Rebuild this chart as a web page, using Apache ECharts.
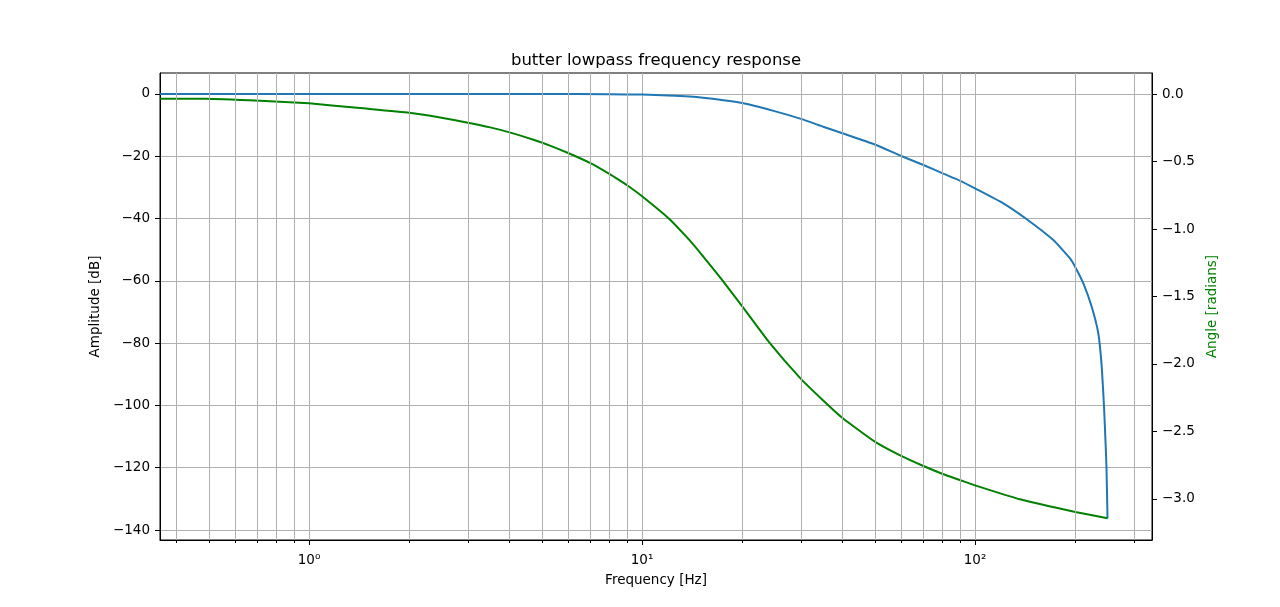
<!DOCTYPE html>
<html>
<head>
<meta charset="utf-8">
<title>butter lowpass frequency response</title>
<script src="https://cdn.jsdelivr.net/npm/echarts@6/dist/echarts.min.js"></script>
<style>
  html, body { margin: 0; padding: 0; background: #fff; }
  #chart { width: 1280px; height: 607px; }
</style>
</head>
<body>
<div id="chart"></div>
<script>
// amplitude curve
const FREQ_MAG = [0.49, 1, 5, 8, 10, 12, 15, 20, 25, 30, 35, 40, 50, 60, 70, 80, 90, 100,
  121.6, 143, 171.9, 192.9, 201, 211.5, 224.1, 234.6, 240.2, 244, 246.9, 248.2, 250];
const MAG_DB = [0, 0, 0, -0.1, -0.2, -0.5, -1.1, -2.9, -5.5, -8.0, -10.5, -12.6, -16.2, -19.9, -22.8, -25.5, -27.8, -30.3,
  -35.1, -40.2, -46.9, -52.8, -56.0, -60.8, -68.3, -76.9, -87.6, -100.4, -113.3, -120, -136.3];

// phase curve
const FREQ_PHASE = [0.49, 0.713, 1, 1.423, 2, 2.475, 3, 3.5, 4, 4.72, 5.29, 6, 7, 8, 8.5, 9, 10,
  12.1, 13.8, 15, 17.3, 20, 24.1, 30, 35, 40, 50, 60, 70, 80, 90, 100, 136.5, 200, 250];
const PHASE_RAD = [-0.035, -0.05, -0.069, -0.104, -0.138, -0.173, -0.212, -0.247, -0.284, -0.339, -0.382, -0.437,
  -0.512, -0.593, -0.634, -0.674, -0.757, -0.927, -1.075, -1.18, -1.37, -1.573, -1.84, -2.11, -2.27, -2.40,
  -2.575, -2.681, -2.756, -2.815, -2.859, -2.899, -3.002, -3.096, -3.143];

const X_TICKS = [1, 10, 100];
const X_MINOR = [0.4, 0.5, 0.6, 0.7, 0.8, 0.9, 2, 3, 4, 5, 6, 7, 8, 9,
  20, 30, 40, 50, 60, 70, 80, 90, 200, 300];
const AMP_TICKS = [-140, -120, -100, -80, -60, -40, -20, 0];
const ANGLE_TICKS = [-3.0, -2.5, -2.0, -1.5, -1.0, -0.5, 0.0];

const X_MIN = 0.3569, X_MAX = 340;

var chartDom = document.getElementById('chart');
var myChart = echarts.init(chartDom, null, { renderer: 'canvas' });

// the f=0 sample sits off the log axis, so the line runs flat in from the left edge
function pairs(xs, ys) {
  let out = [[X_MIN, ys[0]]];
  xs.forEach((x, i) => out.push([x, ys[i]]));
  return out;
}

const SUP = { 0: '\u2070', 1: '\u00b9', 2: '\u00b2' };
const minus = s => String(s).replace('-', '\u2212');
const FONT = 'DejaVu Sans';
const GRID = '#b0b0b0';

let option = {
  animation: false,
  backgroundColor: '#fff',
  textStyle: { fontFamily: FONT },
  title: {
    text: 'butter lowpass frequency response',
    left: 651,
    top: 47,
    textAlign: 'center',
    textStyle: { fontFamily: FONT, fontSize: 16.5, fontWeight: 'normal', color: '#000' }
  },
  grid: { left: 160, right: 128, top: 73, bottom: 67, show: true, borderColor: '#000', borderWidth: 1 },
  xAxis: [
    {
      type: 'log',
      min: X_MIN,
      max: X_MAX,
      position: 'bottom',
      name: 'Frequency [Hz]',
      nameLocation: 'middle',
      nameGap: 33,
      nameTextStyle: { fontFamily: FONT, fontSize: 13.5, color: '#000' },
      axisLine: { show: true, onZero: false, lineStyle: { color: '#000', width: 1 } },
      axisTick: { show: true, length: 5, customValues: X_TICKS, lineStyle: { color: '#000' } },
      axisLabel: {
        customValues: X_TICKS,
        margin: 13,
        fontFamily: FONT, fontSize: 13.5, color: '#000',
        formatter: v => '10' + SUP[Math.round(Math.log10(v))]
      },
      splitLine: { show: true, lineStyle: { color: GRID, width: 1 } }
    },
    {
      type: 'log',
      min: X_MIN,
      max: X_MAX,
      position: 'bottom',
      axisLine: { show: false, onZero: false },
      axisTick: { show: true, length: 3, customValues: X_MINOR, lineStyle: { color: '#000' } },
      axisLabel: { show: false },
      splitLine: { show: false }
    }
  ],
  yAxis: [
    {
      type: 'value',
      min: -143.2,
      max: 6.74,
      position: 'left',
      name: 'Amplitude [dB]',
      nameLocation: 'middle',
      nameGap: 51,
      nameTextStyle: { fontFamily: FONT, fontSize: 13.5, color: '#000' },
      axisLine: { show: true, onZero: false, lineStyle: { color: '#000', width: 1 } },
      axisTick: { show: true, length: 5, customValues: AMP_TICKS, lineStyle: { color: '#000' } },
      axisLabel: {
        customValues: AMP_TICKS,
        margin: 10,
        fontFamily: FONT, fontSize: 13.5, color: '#000',
        formatter: v => minus(v)
      },
      splitLine: { show: true, lineStyle: { color: GRID, width: 1 } }
    },
    {
      type: 'value',
      min: -3.304,
      max: 0.156,
      position: 'right',
      name: 'Angle [radians]',
      nameLocation: 'middle',
      nameGap: 44,
      nameRotate: 90,
      nameTextStyle: { fontFamily: FONT, fontSize: 13.5, color: '#008000' },
      axisLine: { show: true, onZero: false, lineStyle: { color: '#000', width: 1 } },
      axisTick: { show: true, length: 5, customValues: ANGLE_TICKS, lineStyle: { color: '#000' } },
      axisLabel: {
        customValues: ANGLE_TICKS,
        margin: 10,
        fontFamily: FONT, fontSize: 13.5, color: '#000',
        formatter: v => minus(Number(v).toFixed(1))
      },
      splitLine: { show: false }
    }
  ],
  series: [
    {
      name: 'amplitude',
      type: 'line',
      xAxisIndex: 0,
      yAxisIndex: 0,
      showSymbol: false,
      smooth: 0.15,
      lineStyle: { color: '#1f77b4', width: 2 },
      data: pairs(FREQ_MAG, MAG_DB),
      markLine: {
        silent: true,
        symbol: ['none', 'none'],
        label: { show: false },
        lineStyle: { color: GRID, width: 1, type: 'solid' },
        data: X_MINOR.map(f => ({ xAxis: f }))
      },
      z: 3
    },
    {
      name: 'angle',
      type: 'line',
      xAxisIndex: 0,
      yAxisIndex: 1,
      showSymbol: false,
      smooth: 0.15,
      lineStyle: { color: '#008000', width: 2 },
      data: pairs(FREQ_PHASE, PHASE_RAD),
      z: 4
    }
  ]
};

myChart.setOption(option);

window.onresize = function () {
  myChart.resize();
}
</script>
</body>
</html>
